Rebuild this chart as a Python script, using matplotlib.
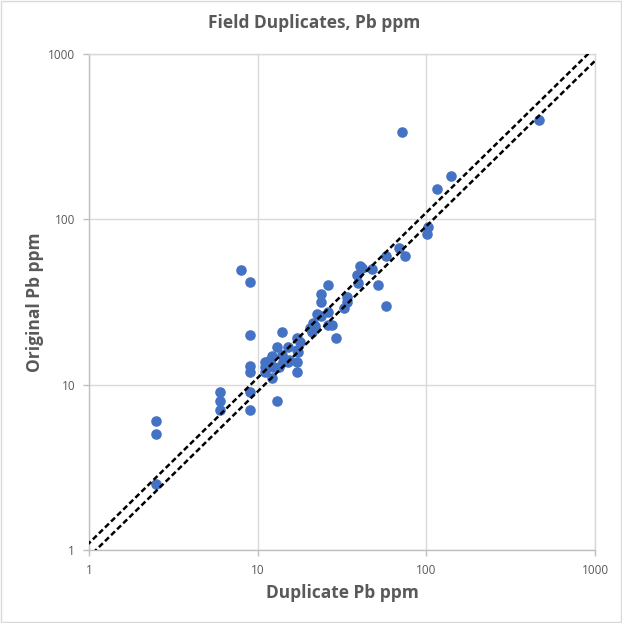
import matplotlib
matplotlib.use("Agg")
import matplotlib.pyplot as plt
from matplotlib.patches import Rectangle
import numpy as np

# Duplicate (x) vs Original (y) Pb ppm values
duplicate_pb = [
    2.5, 2.5, 2.5,
    6.0, 6.0, 6.0,
    8.0, 9.0, 9.0, 9.0, 9.0, 9.0, 9.0,
    13.0,
    11.05, 11.8, 12.1, 11.1, 11.05, 11.8, 12.4, 13.3, 13.9, 14.2, 15.2,
    13.0, 15.2, 17.0, 17.4, 17.0, 17.8, 17.0, 12.1, 13.9, 17.2, 15.4,
    20.4, 21.4, 21.9, 20.9, 22.4, 23.6, 26.2, 23.9, 23.9, 26.0, 26.2,
    27.5, 29.1, 32.5, 33.7, 34.0, 39.5, 38.9, 40.4, 41.3, 47.4, 51.9,
    57.4, 57.4, 69.1, 74.6,
    101.8, 100.4, 71.4, 116.0, 140.0, 465.0,
]
original_pb = [
    6.0, 5.0, 2.5,
    9.0, 8.0, 7.0,
    49.4, 41.8, 20.0, 13.0, 12.0, 9.0, 7.0,
    8.0,
    13.8, 14.1, 14.9, 12.8, 12.0, 13.5, 12.8, 12.8, 15.1, 13.8, 13.8,
    17.0, 17.0, 13.8, 15.8, 12.0, 18.2, 19.1, 10.9, 20.9, 16.2, 14.1,
    21.9, 23.7, 22.7, 20.9, 26.8, 26.0, 27.7, 31.8, 35.2, 40.1, 23.0,
    23.0, 19.1, 29.0, 31.8, 34.1, 41.4, 46.1, 52.3, 50.6, 49.9, 40.1,
    30.1, 60.1, 66.9, 59.6,
    90.3, 81.6, 339.0, 152.7, 183.8, 399.0,
]
tolerance = 1.1          # +/-10% reference lines
axis_ticks = [1, 10, 100, 1000]
tick_labels = ["1", "10", "100", "1000"]

title_text = "Field Duplicates, Pb ppm"
xlabel_text = "Duplicate Pb ppm"
ylabel_text = "Original Pb ppm"

plt.rcParams['font.family'] = ['Open Sans', 'DejaVu Sans']
text_col = "#595959"
grid_col = "#D9D9D9"

fig = plt.figure(figsize=(6.22, 6.23), dpi=100)
ax = fig.add_axes([89/622, 73/623, 506/622, 496/623])

ax.set_xscale('log')
ax.set_yscale('log')
ax.set_xlim(1, 1000)
ax.set_ylim(1, 1000)

ax.scatter(duplicate_pb, original_pb, s=58, color="#4472C4", zorder=3, linewidths=0)

xl = np.array([0.5, 2000.0])
ax.plot(xl, xl * tolerance, color="black", lw=1.8, ls=(0, (2.2, 1.2)), zorder=4)
ax.plot(xl, xl / tolerance, color="black", lw=1.8, ls=(0, (2.2, 1.2)), zorder=4)

ax.set_xticks(axis_ticks)
ax.set_xticklabels(tick_labels)
ax.set_yticks(axis_ticks)
ax.set_yticklabels(tick_labels)
ax.minorticks_off()
ax.grid(True, color=grid_col, lw=1.0, zorder=0)
for s in ax.spines.values():
    s.set_color(grid_col)
    s.set_linewidth(1.0)
ax.spines['bottom'].set_color("#BFBFBF")
ax.spines['left'].set_color("#BFBFBF")
ax.tick_params(axis='both', colors="#BFBFBF", labelcolor=text_col, labelsize=8.5,
               length=4, width=1.0)
ax.tick_params(axis='x', pad=6)
ax.tick_params(axis='y', pad=6)

ax.set_xlabel(xlabel_text, fontsize=12.5, fontweight='bold', color=text_col, labelpad=5)
ax.set_ylabel(ylabel_text, fontsize=12.5, fontweight='bold', color=text_col, labelpad=3)
fig.text(0.505, 1 - 23/623, title_text, fontsize=12.5, fontweight='bold', color=text_col,
         ha='center', va='center')

fig.patches.append(Rectangle((0.002, 0.002), 0.996, 0.996, transform=fig.transFigure,
                             fill=False, edgecolor=grid_col, lw=1.0))

fig.savefig("out.png", dpi=100)
